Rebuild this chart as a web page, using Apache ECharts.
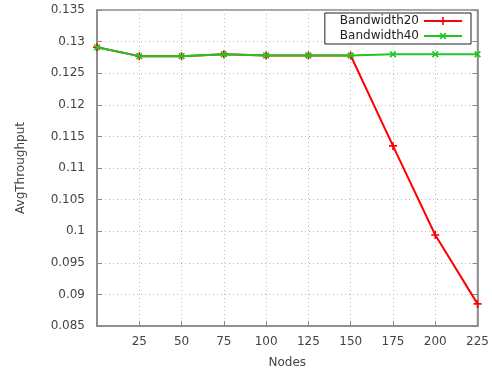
<!DOCTYPE html>
<html>
<head>
<meta charset="utf-8">
<script src="https://cdn.jsdelivr.net/npm/echarts@6/dist/echarts.min.js"></script>
<style>
  html, body { margin: 0; padding: 0; background: #fff; }
  #main { width: 492px; height: 374px; }
</style>
</head>
<body>
<div id="main"></div>
<script>
// data
var nodes = [0, 25, 50, 75, 100, 125, 150, 175, 200, 225];
var bw20 = [0.1291, 0.1277, 0.1277, 0.1280, 0.1278, 0.1278, 0.1278, 0.1135, 0.0994, 0.0885];
var bw40 = [0.1291, 0.1277, 0.1277, 0.1280, 0.1278, 0.1278, 0.1278, 0.1280, 0.1280, 0.1280];
var xTicks = [25, 50, 75, 100, 125, 150, 175, 200, 225];

function pairs(xs, ys) {
  return xs.map(function (x, i) { return [x, ys[i]]; });
}

var plusPath = "path://M4,0H6V10H4ZM0,4H10V6H0Z";
var font = "DejaVu Sans";
var gray = "#888";

var myChart = echarts.init(document.getElementById("main"));

var option = {
  animation: false,
  backgroundColor: "#fff",
  textStyle: { fontFamily: font },
  grid: {
    left: 97, right: 13, top: 10, bottom: 48,
    show: true, borderColor: gray, borderWidth: 1.5
  },
  legend: {
    right: 21, top: 13,
    orient: "vertical",
    align: "right",
    itemWidth: 38, itemHeight: 10, itemGap: 3,
    padding: [2, 8, 2, 15],
    borderColor: "#222", borderWidth: 1,
    backgroundColor: "#fff",
    textStyle: { fontFamily: font, fontSize: 12, color: "#222" },
    data: ["Bandwidth20", "Bandwidth40"]
  },
  xAxis: {
    type: "value",
    min: 0, max: 225, interval: 25,
    name: "Nodes",
    nameLocation: "middle",
    nameGap: 31,
    nameTextStyle: { fontFamily: font, fontSize: 12, color: "#444" },
    axisLine: { lineStyle: { color: gray, width: 1.5 } },
    axisTick: { inside: true, length: 5, lineStyle: { color: gray } },
    axisLabel: {
      fontFamily: font, fontSize: 12, color: "#444", margin: 10,
      formatter: function (v) { return xTicks.indexOf(v) >= 0 ? String(v) : ""; }
    },
    splitLine: { lineStyle: { color: "#bbb", type: [1, 3] } }
  },
  yAxis: [
    {
      type: "value",
      min: 0.085, max: 0.135, interval: 0.005,
      name: "AvgThroughput",
      nameLocation: "middle",
      nameGap: 70,
      nameTextStyle: { fontFamily: font, fontSize: 12, color: "#444" },
      axisLine: { show: true, lineStyle: { color: gray, width: 1.5 } },
      axisTick: { show: true, inside: true, length: 5, lineStyle: { color: gray } },
      axisLabel: {
        fontFamily: font, fontSize: 12, color: "#444", margin: 12,
        formatter: function (v) { return String(+v.toFixed(3)); }
      },
      splitLine: { lineStyle: { color: "#bbb", type: [1, 3] } }
    },
    {
      type: "value",
      position: "right",
      min: 0.085, max: 0.135, interval: 0.005,
      axisLine: { show: true, lineStyle: { color: gray, width: 1.5 } },
      axisTick: { show: true, inside: true, length: 5, lineStyle: { color: gray } },
      axisLabel: { show: false },
      splitLine: { show: false }
    }
  ],
  series: [
    {
      name: "Bandwidth40",
      type: "line",
      data: pairs(nodes, bw40),
      symbol: plusPath,
      symbolRotate: 45,
      symbolSize: 8,
      showAllSymbol: true,
      color: "#22c422",
      lineStyle: { width: 2, color: "#22c422" },
      itemStyle: { color: "#22c422" },
      z: 2
    },
    {
      name: "Bandwidth20",
      type: "line",
      data: pairs(nodes, bw20),
      symbol: plusPath,
      symbolSize: 8,
      showAllSymbol: true,
      color: "#ff0000",
      lineStyle: { width: 2, color: "#ff0000" },
      itemStyle: { color: "#ff0000" },
      z: 1
    }
  ]
};

myChart.setOption(option);
</script>
</body>
</html>
